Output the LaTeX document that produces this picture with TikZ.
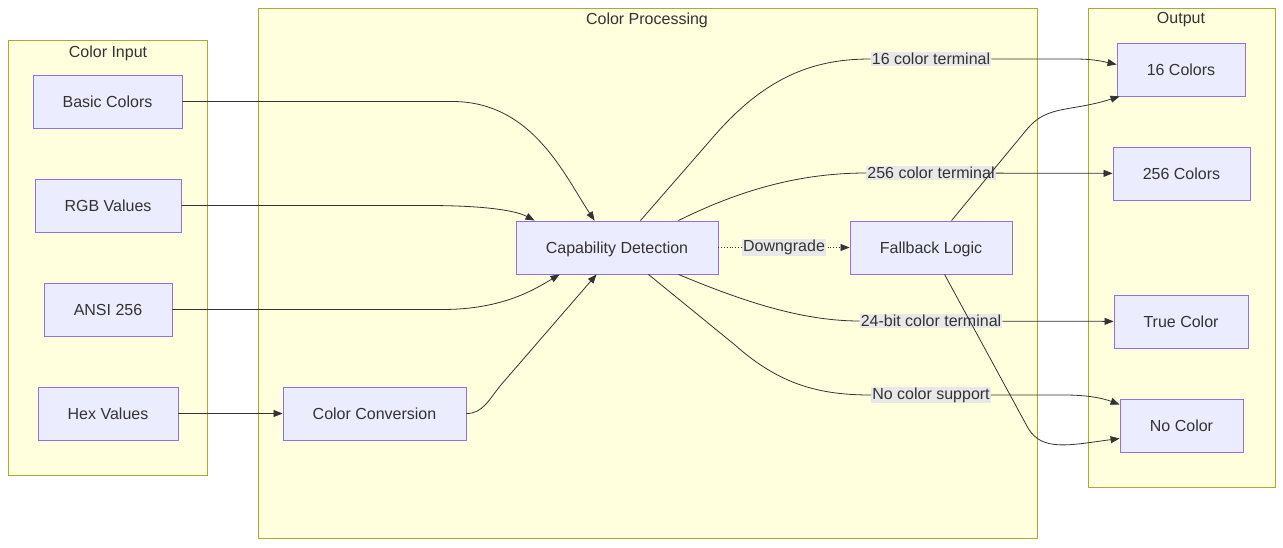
\documentclass[tikz,border=0pt]{standalone}
\usepackage{fontspec}
\setmainfont{Liberation Sans}
\usetikzlibrary{arrows.meta}
\definecolor{clfill}{HTML}{FFFFDE}
\definecolor{cldraw}{HTML}{AAAA33}
\definecolor{ndfill}{HTML}{ECECFF}
\definecolor{nddraw}{HTML}{9370DB}
\definecolor{txt}{HTML}{333333}
\definecolor{lblbg}{HTML}{E8E8E8}
\tikzset{
  cluster/.style={draw=cldraw, fill=clfill, line width=0.9pt},
  box/.style={draw=nddraw, fill=ndfill, line width=0.9pt, text=txt, inner sep=0pt, text height=11.5pt, text depth=0pt, font=\fontsize{16}{19}\selectfont},
  ttl/.style={text=txt, font=\fontsize{16}{19}\selectfont, inner sep=0pt},
  elbl/.style={fill=lblbg, text=txt, font=\fontsize{16}{19}\selectfont, inner sep=1pt},
  conn/.style={draw=txt, line width=0.8pt, -{Triangle[length=9pt,width=7pt]}},
  plain/.style={draw=txt, line width=0.8pt}
}
\begin{document}
\begin{tikzpicture}[x=1pt,y=-1pt]
\useasboundingbox[fill=white] (0,0) rectangle (1283,547);
% clusters
\draw[cluster] (8,40) rectangle (207,475);
\node[ttl] (tin) at (108,53) {Color Input};
\draw[cluster] (258,8) rectangle (1037,538);
\node[ttl] (tproc) at (647,20) {Color Processing};
\draw[cluster] (1088,8) rectangle (1275,487);
\node[ttl] (tout) at (1181,20) {Output};
% nodes
\node[box, minimum width=149pt, minimum height=53pt] (bc) at (107.5,101.5) {Basic Colors};
\node[box, minimum width=146pt, minimum height=53pt] (rgb) at (108,205.5) {RGB Values};
\node[box, minimum width=128pt, minimum height=53pt] (ansi) at (108,309.5) {ANSI 256};
\node[box, minimum width=140pt, minimum height=53pt] (hex) at (108,413.5) {Hex Values};
\node[box, minimum width=183pt, minimum height=53pt] (conv) at (374.5,413.5) {Color Conversion};
\node[box, minimum width=202pt, minimum height=53pt] (cap) at (617,247.5) {Capability Detection};
\node[box, minimum width=162pt, minimum height=53pt] (fb) at (931,247.5) {Fallback Logic};
\node[box, minimum width=128pt, minimum height=53pt] (c16) at (1181,69.5) {16 Colors};
\node[box, minimum width=137pt, minimum height=53pt] (c256) at (1181.5,173.5) {256 Colors};
\node[box, minimum width=134pt, minimum height=53pt] (ctrue) at (1181,321.5) {True Color};
\node[box, minimum width=123pt, minimum height=53pt] (cno) at (1181.5,425.5) {No Color};
% edge labels
\node[elbl] (l16) at (931,59) {16 color terminal};
\node[elbl] (l256) at (931,173) {256 color terminal};
\node[elbl] (l24) at (931,321) {24-bit color terminal};
\node[elbl] (lno) at (931,395) {No color support};
% input edges
\draw[conn] (bc.east) -- ++(270,0) .. controls +(80,0) and +(-30,-45) .. ([xshift=79pt]cap.north west);
\draw[conn] (rgb.east) -- ++(245,0) .. controls +(70,0) and +(-15,-8) .. ([xshift=19pt]cap.north west);
\draw[conn] (ansi.east) -- ++(270,0) .. controls +(60,0) and +(-25,15) .. ([xshift=44pt]cap.south west);
\draw[conn] (hex) -- (conv);
\draw[conn] (conv.east) .. controls +(16,0) and +(-12,15) .. ++(34,-28) -- ([xshift=81pt]cap.south west);
% capability edges
\draw[plain] ([xshift=-78pt]cap.north east) -- (715,135) .. controls (770,72) and (820,59) .. (l16.west);
\draw[conn] (l16.east) -- (1075,59) .. controls (1095,59) and (1105,62) .. ([yshift=5pt]c16.west);
\draw[plain] ([xshift=-40pt]cap.north east) .. controls (740,190) and (800,173) .. (l256.west);
\draw[conn] (l256) -- (c256);
\draw[plain] ([xshift=-40pt]cap.south east) .. controls (740,300) and (800,321) .. (l24.west);
\draw[conn] (l24) -- (ctrue);
\draw[plain] ([xshift=-70pt]cap.south east) -- (735,345) .. controls (780,385) and (820,395) .. (lno.west);
\draw[conn] (lno.east) -- (1065,395) .. controls (1090,395) and (1105,399) .. ([yshift=-6pt]cno.north west);
\draw[draw=txt, line width=0.8pt, dotted, -{Triangle[length=9pt,width=7pt]}] (cap) -- node[elbl] (ldg) {Downgrade} (fb);
% fallback edges
\draw[conn] ([xshift=102pt]fb.north west) -- (1028,128) .. controls (1048,105) and (1070,112) .. ([xshift=3pt]c16.south west);
\draw[conn] ([xshift=95pt]fb.south west) -- (1028,428) .. controls (1042,452) and (1070,445) .. ([yshift=-13pt]cno.west);
\end{tikzpicture}
\end{document}
